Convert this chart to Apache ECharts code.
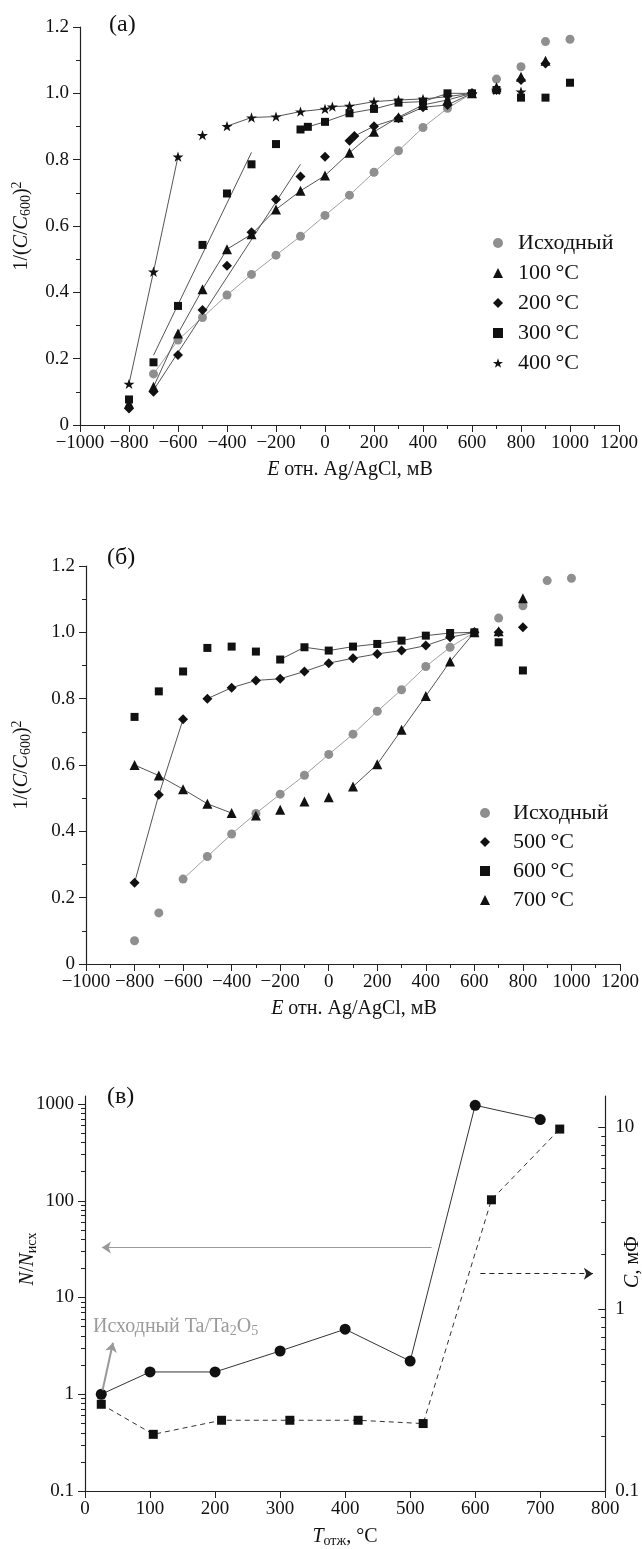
<!DOCTYPE html>
<html><head><meta charset="utf-8">
<script src="https://cdn.jsdelivr.net/npm/echarts@6/dist/echarts.min.js"></script>
<style>html,body{margin:0;padding:0;background:#fff}#c{width:642px;height:1549px}</style>
</head><body><div id="c"></div>
<script>
// ---------- Panel (a) data ----------
const aIskhE = [-700,-600,-500,-400,-300,-200,-100,0,100,200,300,400,500,600,700,800,900,1000];
const aIskhV = [0.154,0.256,0.324,0.392,0.454,0.512,0.569,0.632,0.693,0.762,0.827,0.897,0.955,1.0,1.043,1.080,1.156,1.163];
const a100E = [-800,-700,-600,-500,-400,-300,-200,-100,0,100,200,300,400,500,600,700,800,900];
const a100V = [0.065,0.115,0.276,0.409,0.530,0.575,0.650,0.706,0.752,0.821,0.884,0.928,0.965,0.980,1.0,1.018,1.05,1.098];
const a200E = [-800,-700,-600,-500,-400,-300,-200,-100,0,100,120,200,300,400,500,600,700,800,900];
const a200V = [0.050,0.100,0.211,0.347,0.480,0.581,0.680,0.749,0.809,0.857,0.871,0.901,0.925,0.958,0.965,1.0,1.010,1.040,1.090];
const a300E = [-800,-700,-600,-500,-400,-300,-200,-100,-70,0,100,200,300,400,500,600,700,800,900,1000];
const a300V = [0.077,0.189,0.359,0.543,0.698,0.786,0.847,0.891,0.899,0.914,0.940,0.953,0.972,0.975,1.0,1.0,1.01,0.987,0.987,1.032];
const a400E = [-800,-700,-600,-500,-400,-300,-200,-100,0,30,100,200,300,400,500,600,700,800];
const a400V = [0.124,0.462,0.809,0.874,0.901,0.927,0.930,0.945,0.953,0.960,0.962,0.975,0.980,0.983,0.990,1.0,1.010,1.005];
// straight fit lines (a)
const aFit200 = [[-700,0.105],[-100,0.786]];
const aFit300 = [[-700,0.21],[-300,0.822]];

// ---------- Panel (б) data ----------
const bIskhE = [-800,-700,-600,-500,-400,-300,-200,-100,0,100,200,300,400,500,600,700,800,900,1000];
const bIskhV = [0.07,0.154,0.256,0.324,0.392,0.454,0.512,0.569,0.632,0.693,0.762,0.827,0.897,0.955,1.0,1.043,1.080,1.156,1.163];
const bE = [-800,-700,-600,-500,-400,-300,-200,-100,0,100,200,300,400,500,600,700,800];
const b500V = [0.245,0.51,0.738,0.800,0.833,0.855,0.860,0.882,0.907,0.922,0.935,0.945,0.960,0.985,1.0,1.0,1.015];
const b600V = [0.745,0.822,0.882,0.953,0.957,0.942,0.918,0.955,0.945,0.957,0.965,0.975,0.990,0.998,1.0,0.970,0.885];
const b700V = [0.600,0.568,0.527,0.483,0.455,0.448,0.465,0.490,0.503,0.535,0.602,0.706,0.808,0.912,1.0,1.003,1.103];

// ---------- Panel (в) data ----------
const cT_N = [25,100,200,300,400,500,600,700];
const cN   = [1.0,1.7,1.7,2.8,4.7,2.2,970,690];
const cT_C = [25,105,210,315,420,520,625,730];
const cC   = [0.30,0.205,0.245,0.245,0.245,0.235,4.0,9.8];
const arrowToLeft  = [[533,32.8],[26,32.8]];
const arrowToRight = [[608,1.57],[781,1.57]];
const arrowInit    = [[27,1.1],[43,3.4]];
const leftMajor = [0.1,1,10,100,1000];
const rightMajor = [0.1,1,10];
const LMAX = 1210, RMAX = 14.9;

const SERIF = '"Liberation Serif","Times New Roman",serif';
const BLACK = '#111', GRAY = '#8f8f8f', LINE = '#555';
const TICKFS = 19;
const STAR = 'path://M50,0 L61.8,35.1 L98.1,35.1 L68.8,56.7 L79.4,90.5 L50,69.1 L20.6,90.5 L31.2,56.7 L1.9,35.1 L38.2,35.1 Z';

const pts = (E,V) => E.map((e,i)=>[e,V[i]]);
const seg = (E,V,i0,i1) => pts(E,V).slice(i0,i1+1);
const minus = v => v<0 ? '\u2212'+Math.abs(v) : String(v);

function xAxisAB(g){
  return {type:'value',gridIndex:g,min:-1000,max:1200,interval:200,
    axisLine:{show:true,onZero:false,lineStyle:{color:'#222',width:1.2}},
    axisTick:{show:true,length:7,lineStyle:{color:'#222',width:1}},
    minorTick:{show:true,splitNumber:2,length:4,lineStyle:{color:'#222',width:1}},
    splitLine:{show:false},minorSplitLine:{show:false},
    axisLabel:{fontFamily:SERIF,fontSize:TICKFS,color:BLACK,margin:9,formatter:minus}};
}
function yAxisAB(g){
  return {type:'value',gridIndex:g,min:0,max:1.2,interval:0.2,
    axisLine:{show:true,onZero:false,lineStyle:{color:'#222',width:1.2}},
    axisTick:{show:true,length:7,lineStyle:{color:'#222',width:1}},
    minorTick:{show:true,splitNumber:2,length:4,lineStyle:{color:'#222',width:1}},
    splitLine:{show:false},minorSplitLine:{show:false},
    axisLabel:{fontFamily:SERIF,fontSize:TICKFS,color:BLACK,margin:11,formatter:v=>v===0?'0':v.toFixed(1)}};
}
function scat(name,g,data,symbol,size,color){
  return {type:'scatter',name,xAxisIndex:g,yAxisIndex:g,data,symbol,symbolSize:size,symbolKeepAspect:true,
    itemStyle:{color,opacity:1},z:4,silent:true};
}
function ln(g,data,color){
  return {type:'line',xAxisIndex:g,yAxisIndex:g,data,symbol:'none',lineStyle:{color:color||LINE,width:1},z:2,silent:true};
}
const minorVals = (maxLog) => {
  const out=[];
  for(let p=-1;p<=Math.floor(maxLog);p++){for(let k=2;k<=9;k++){const v=Math.log10(k*Math.pow(10,p)); if(v<=maxLog) out.push(v);}}
  return out;
};
const fmtPow = v => String(Math.round(Math.pow(10,v)*10)/10);

const series = [
  // panel a lines
  ln(0, seg(aIskhE,aIskhV,0,13), '#a0a0a0'),
  ln(0, seg(a100E,a100V,1,14)),
  ln(0, aFit200),
  ln(0, seg(a200E,a200V,9,15)),
  ln(0, aFit300),
  ln(0, seg(a300E,a300V,7,15)),
  ln(0, seg(a400E,a400V,0,2)),
  ln(0, seg(a400E,a400V,4,15)),
  // panel a markers
  scat('Исходный',0,pts(aIskhE,aIskhV),'circle',9,GRAY),
  scat('100\u2009°C',0,pts(a100E,a100V),'triangle',10,BLACK),
  scat('200\u2009°C',0,pts(a200E,a200V),'diamond',10,BLACK),
  scat('300\u2009°C',0,pts(a300E,a300V),'rect',8,BLACK),
  scat('400\u2009°C',0,pts(a400E,a400V),STAR,11,BLACK),
  // panel b lines
  ln(1, seg(bIskhE,bIskhV,2,14), '#a0a0a0'),
  ln(1, seg(bE,b500V,0,2)),
  ln(1, seg(bE,b500V,3,14)),
  ln(1, seg(bE,b600V,6,14)),
  ln(1, seg(bE,b700V,0,4)),
  ln(1, seg(bE,b700V,9,14)),
  // panel b markers
  scat('Исходный',1,pts(bIskhE,bIskhV),'circle',9,GRAY),
  scat('500\u2009°C',1,pts(bE,b500V),'diamond',10,BLACK),
  scat('600\u2009°C',1,pts(bE,b600V),'rect',8,BLACK),
  scat('700\u2009°C',1,pts(bE,b700V),'triangle',10,BLACK),
  // panel c
  {type:'line',name:'N',xAxisIndex:2,yAxisIndex:2,data:pts(cT_N,cN),symbol:'circle',symbolSize:11,
    itemStyle:{color:BLACK},lineStyle:{color:'#333',width:1},z:3,silent:true,
    markLine:{silent:true,symbol:['none','arrow'],symbolSize:9,label:{show:false},animation:false,
      lineStyle:{color:'#999',width:1.2,type:'solid'},
      data:[[{coord:arrowToLeft[0]},{coord:arrowToLeft[1]}],
            [{coord:arrowInit[0],lineStyle:{color:'#999',width:2}},{coord:arrowInit[1]}]]}},
  {type:'line',name:'C',xAxisIndex:2,yAxisIndex:3,data:pts(cT_C,cC),symbol:'rect',symbolSize:9,
    itemStyle:{color:BLACK},lineStyle:{color:'#333',width:1,type:[5,4]},z:3,silent:true,
    markLine:{silent:true,symbol:['none','arrow'],symbolSize:9,label:{show:false},animation:false,
      lineStyle:{color:'#222',width:1,type:[5,4]},
      data:[[{coord:arrowToRight[0]},{coord:arrowToRight[1]}]]}}
];

function rtext(x,y,text,rich,opts){
  return Object.assign({type:'text',x,y,silent:true,
    style:{text,rich:rich||{},font:'20px '+SERIF,fill:BLACK,align:'center',verticalAlign:'middle'}},opts||{});
}
const RICH = {
  i:{font:'italic 20px '+SERIF,fill:BLACK},
  sub:{font:'14px '+SERIF,fill:BLACK,padding:[9,0,0,0]},
  sup:{font:'14px '+SERIF,fill:BLACK,padding:[0,0,10,0]},
  gsub:{font:'14px '+SERIF,fill:'#9a9a9a',padding:[9,0,0,0]}
};
const lab = (x,y,t) => ({type:'text',x,y,silent:true,style:{text:t,font:'24px '+SERIF,fill:BLACK,align:'left',verticalAlign:'middle'}});

const option = {
  animation:false,
  backgroundColor:'#fff',
  grid:[
    {left:80,top:27,width:539,height:398},
    {left:86,top:566,width:535,height:398},
    {left:85,top:1096,width:521,height:395}
  ],
  xAxis:[xAxisAB(0),xAxisAB(1),
    {type:'value',gridIndex:2,min:0,max:800,interval:100,
      axisLine:{show:true,onZero:false,lineStyle:{color:'#222',width:1.2}},
      axisTick:{show:true,length:7,lineStyle:{color:'#222'}},splitLine:{show:false},
      axisLabel:{fontFamily:SERIF,fontSize:TICKFS,color:BLACK,margin:9}}],
  yAxis:[yAxisAB(0),yAxisAB(1),
    {type:'log',gridIndex:2,min:0.1,max:LMAX,logBase:10,position:'left',
      axisLine:{show:true,onZero:false,lineStyle:{color:'#222',width:1.2}},
      axisTick:{show:false},axisLabel:{show:false},splitLine:{show:false}},
    {type:'log',gridIndex:2,min:0.1,max:RMAX,logBase:10,position:'right',
      axisLine:{show:true,onZero:false,lineStyle:{color:'#222',width:1.2}},
      axisTick:{show:false},axisLabel:{show:false},splitLine:{show:false}},
    // tick overlays (log10 space)
    {type:'value',gridIndex:2,min:-1,max:Math.log10(LMAX),position:'left',axisLine:{show:false},splitLine:{show:false},
      axisTick:{show:true,length:7,lineStyle:{color:'#222'},customValues:leftMajor.map(Math.log10)},
      axisLabel:{show:true,fontFamily:SERIF,fontSize:TICKFS,color:BLACK,margin:11,customValues:leftMajor.map(Math.log10),formatter:fmtPow}},
    {type:'value',gridIndex:2,min:-1,max:Math.log10(LMAX),position:'left',axisLine:{show:false},splitLine:{show:false},
      axisTick:{show:true,length:4,lineStyle:{color:'#222'},customValues:minorVals(Math.log10(LMAX))},
      axisLabel:{show:false}},
    {type:'value',gridIndex:2,min:-1,max:Math.log10(RMAX),position:'right',axisLine:{show:false},splitLine:{show:false},
      axisTick:{show:true,inside:true,length:7,lineStyle:{color:'#222'},customValues:rightMajor.map(Math.log10)},
      axisLabel:{show:true,fontFamily:SERIF,fontSize:TICKFS,color:BLACK,margin:10,customValues:rightMajor.map(Math.log10),formatter:fmtPow}},
    {type:'value',gridIndex:2,min:-1,max:Math.log10(RMAX),position:'right',axisLine:{show:false},splitLine:{show:false},
      axisTick:{show:true,inside:true,length:4,lineStyle:{color:'#222'},customValues:minorVals(Math.log10(RMAX))},
      axisLabel:{show:false}}
  ],
  legend:[
    {orient:'vertical',left:488,top:227,itemWidth:10,itemHeight:10,itemGap:8,
      data:['Исходный','100\u2009°C','200\u2009°C','300\u2009°C','400\u2009°C'],
      textStyle:{fontFamily:SERIF,fontSize:22,color:BLACK,lineHeight:20,padding:[0,0,0,10]},selectedMode:false},
    {orient:'vertical',left:475,top:797,itemWidth:10,itemHeight:10,itemGap:7,
      data:['Исходный','500\u2009°C','600\u2009°C','700\u2009°C'],
      textStyle:{fontFamily:SERIF,fontSize:22,color:BLACK,lineHeight:20,padding:[0,0,0,18]},selectedMode:false}
  ],
  graphic:[
    lab(109,25,'(a)'),
    lab(107,558,'(б)'),
    lab(107,1097,'(в)'),
    rtext(22,226,'1/({i|C}/{i|C}{sub|600}){sup|2}',RICH,{rotation:Math.PI/2}),
    rtext(22,765,'1/({i|C}/{i|C}{sub|600}){sup|2}',RICH,{rotation:Math.PI/2}),
    rtext(350,470,'{i|E} отн. Ag/AgCl, мВ',RICH),
    rtext(354,1009,'{i|E} отн. Ag/AgCl, мВ',RICH),
    rtext(28,1259,'{i|N}/{i|N}{sub|исх}',RICH,{rotation:Math.PI/2}),
    rtext(633,1262,'{i|C}, мФ',RICH,{rotation:Math.PI/2}),
    rtext(345,1537,'{i|T}{sub|отж}, °C',RICH),
    {type:'text',x:93,y:1327,silent:true,style:{text:'Исходный Ta/Ta{gsub|2}O{gsub|5}',rich:RICH,
      font:'20px '+SERIF,fill:'#9a9a9a',align:'left',verticalAlign:'middle'}}
  ],
  series
};
const chart = echarts.init(document.getElementById('c'),null,{renderer:'canvas'});
chart.setOption(option);
</script></body></html>
